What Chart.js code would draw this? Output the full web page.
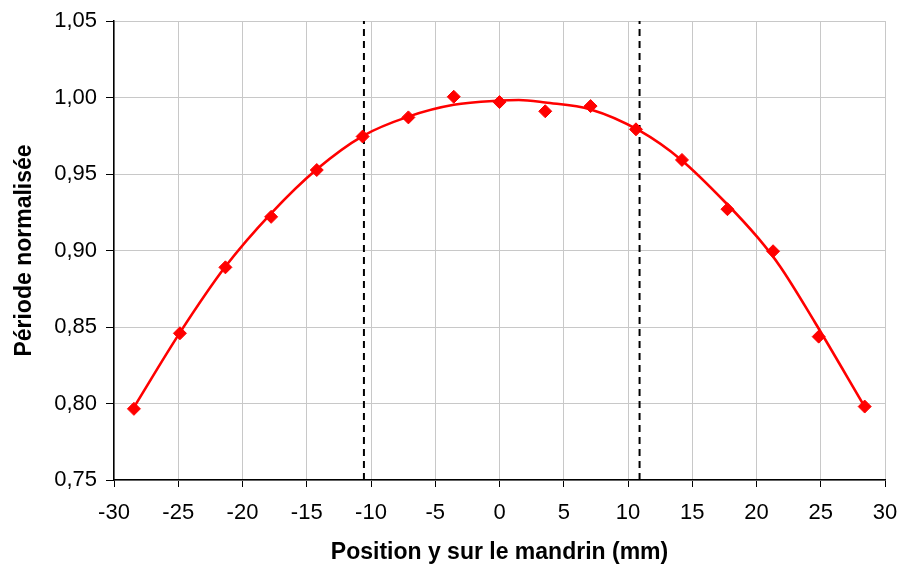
<!DOCTYPE html>
<html><head><meta charset="utf-8">
<script src="https://cdn.jsdelivr.net/npm/chart.js@4/dist/chart.umd.min.js"></script>
<style>html,body{margin:0;padding:0;background:#fff}#wrap{width:900px;height:567px}</style>
</head><body><div id="wrap"><canvas id="c" width="900" height="567"></canvas></div>
<script>
// Measured points
const posX = [-28.45, -24.87, -21.33, -17.77, -14.22, -10.65, -7.09, -3.56, 0.0, 3.56, 7.09, 10.62, 14.2, 17.74, 21.29, 24.84, 28.42];
const periodY = [0.7965, 0.8459, 0.889, 0.922, 0.9526, 0.9745, 0.987, 1.0005, 0.997, 0.991, 0.9944, 0.9792, 0.9592, 0.927, 0.8995, 0.8437, 0.798];
// Fitted trend curve
const fitX = [-28.45, -24.87, -21.33, -17.77, -14.22, -10.65, -7.09, -3.56, 0, 1.5, 3.56, 7.09, 10.9, 14.15, 17.7, 20.12, 21.81, 24.53, 28.42];
const fitY = [0.7975, 0.8463, 0.8895, 0.9243, 0.9531, 0.9748, 0.9875, 0.9952, 0.9980, 0.9984, 0.9967, 0.9922, 0.9783, 0.9592, 0.9304, 0.9082, 0.8899, 0.8533, 0.7979];
// Vertical dashed limits
const limitX = [-10.55, 10.9];
const yRange = [0.75, 1.05];
const xRange = [-30, 30];

const FONT = "'Liberation Sans', Arial, sans-serif";
const toPts = (xs, ys) => xs.map((x, i) => ({x: x, y: ys[i]}));

const datasets = [
  {label: 'points', data: toPts(posX, periodY), showLine: false, pointStyle: 'rectRot', pointRadius: 6.5, pointHoverRadius: 6.5,
   backgroundColor: '#ff0000', borderColor: '#ff0000', borderWidth: 1, order: 1},
  {label: 'fit', data: toPts(fitX, fitY), showLine: true, pointRadius: 0, borderColor: '#ff0000', borderWidth: 2.6,
   cubicInterpolationMode: 'monotone', fill: false, order: 2},
];
limitX.forEach(x => datasets.push({label: 'lim', data: [{x: x, y: yRange[0]}, {x: x, y: yRange[1]}], showLine: true,
  pointRadius: 0, borderColor: '#000000', borderWidth: 2, borderDash: [7, 5], fill: false, order: 3}));

new Chart(document.getElementById('c'), {
  type: 'scatter',
  data: {datasets: datasets},
  options: {
    responsive: false, animation: false, devicePixelRatio: 1,
    layout: {autoPadding: false, padding: {left: 0, right: 15, top: 21, bottom: 0}},
    plugins: {legend: {display: false}, tooltip: {enabled: false}},
    scales: {
      x: {
        type: 'linear', min: xRange[0], max: xRange[1],
        ticks: {stepSize: 5, color: '#000', font: {family: FONT, size: 22}, padding: 13, maxRotation: 0,
          callback: v => String(v)},
        grid: {color: '#c8c8c8', lineWidth: 1, tickColor: '#000', tickLength: 7, drawOnChartArea: true},
        border: {color: '#000', width: 1.5},
        title: {display: true, text: 'Position y sur le mandrin (mm)', color: '#000',
          font: {family: FONT, size: 23, weight: 'bold'}, padding: {top: 0, bottom: 1}},
        afterFit: s => { s.height = 87; s.paddingLeft = 0; s.paddingRight = 0; }
      },
      y: {
        type: 'linear', min: yRange[0], max: yRange[1],
        ticks: {stepSize: 0.05, color: '#000', font: {family: FONT, size: 22}, padding: 9,
          callback: v => v.toFixed(2).replace('.', ',')},
        grid: {color: '#c8c8c8', lineWidth: 1, tickColor: '#000', tickLength: 8},
        border: {color: '#000', width: 1.5},
        title: {display: true, text: 'Période normalisée', color: '#000',
          font: {family: FONT, size: 23, weight: 'bold'}, padding: {top: 11, bottom: 0}},
        afterFit: s => { s.width = 114; s.paddingTop = 0; s.paddingBottom = 0; }
      }
    }
  }
});
</script></body></html>
